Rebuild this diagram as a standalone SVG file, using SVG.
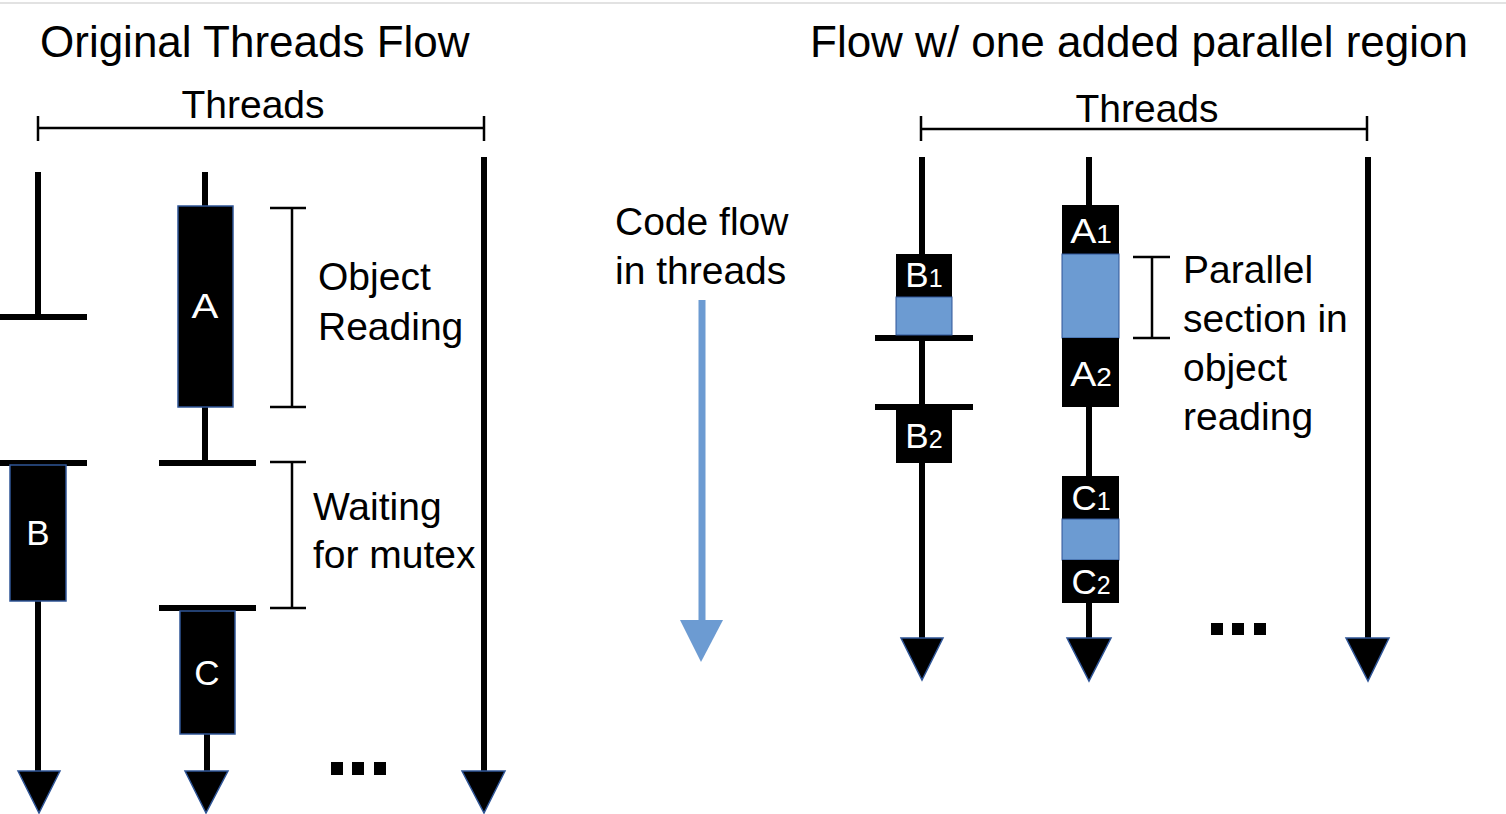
<svg xmlns="http://www.w3.org/2000/svg" width="1506" height="814" viewBox="0 0 1506 814">
<defs>
<style>
text{font-family:"Liberation Sans",Arial,sans-serif;fill:#000}
.title{font-size:44px}
.lbl{font-size:39px}
.box{fill:#000;stroke:#2f5597;stroke-width:1.5}
.boxr{fill:#000}
.par{fill:#6c9bd2;stroke:#2f5597;stroke-width:1}
.thr{stroke:#000;stroke-width:6;fill:none}
.bar{stroke:#000;stroke-width:6;fill:none}
.brk{stroke:#000;stroke-width:2.5;fill:none}
.head{fill:#000;stroke:#2f5597;stroke-width:1.5}
.w{fill:#fff;font-size:35px;text-anchor:middle}
.sub{font-size:25px}
</style>
</defs>
<rect width="1506" height="814" fill="#fff"/>
<line x1="0" y1="3" x2="1506" y2="3" stroke="#e2e2e2" stroke-width="2"/>

<g id="titles">
<text class="title" x="40" y="57">Original Threads Flow</text>
<text class="title" x="810" y="57">Flow w/ one added parallel region</text>
</g>

<g id="threads-axis-left">
<text class="lbl" x="253" y="118" text-anchor="middle">Threads</text>
<path class="brk" d="M38,128H484M38,116V141M484,116V141"/>
</g>
<g id="threads-axis-right">
<text class="lbl" x="1147" y="122" text-anchor="middle">Threads</text>
<path class="brk" d="M921,129H1367M921,116V141M1367,116V141"/>
</g>

<g id="connectors">
<path class="thr" d="M38,172V318"/>
<path class="bar" d="M0,317H87"/>
<path class="bar" d="M0,463H87"/>
<path class="thr" d="M38,601V775"/>
<polygon class="head" points="18,771 60,771 39,813"/>
<path class="thr" d="M205,172V207"/>
<path class="thr" d="M205,407V463"/>
<path class="bar" d="M159,463H256"/>
<path class="bar" d="M159,608H256"/>
<path class="thr" d="M207,734V775"/>
<polygon class="head" points="185,771 228,771 206,813"/>
<path class="thr" d="M484,157V775"/>
<polygon class="head" points="462,771 505,771 484,813"/>
<path d="M702,300V624" stroke="#6c9bd2" stroke-width="7" fill="none"/>
<polygon points="680,620 723,620 701,662" fill="#6c9bd2"/>
<path class="thr" d="M922,157V640"/>
<path class="bar" d="M875,338H973"/>
<path class="bar" d="M875,407H973"/>
<polygon class="head" points="901,638 943,638 922,680"/>
<path class="thr" d="M1089,157V640"/>
<polygon class="head" points="1067,638 1111,638 1089,681"/>
<path class="thr" d="M1368,157V640"/>
<polygon class="head" points="1346,638 1389,638 1368,681"/>
</g>

<g id="node-A">
<rect class="box" x="178" y="206" width="55" height="201"/>
<text class="w" transform="translate(205,318) scale(1.15,1)">A</text>
</g>
<g id="node-B">
<rect class="box" x="10" y="465" width="56" height="136"/>
<text class="w" x="38" y="545">B</text>
</g>
<g id="node-C">
<rect class="box" x="180" y="611" width="55" height="123"/>
<text class="w" x="207" y="685">C</text>
</g>

<g id="bracket-object-reading">
<path class="brk" d="M292,208V407M270,208H306M270,407H306"/>
<text class="lbl" x="318" y="290">Object</text>
<text class="lbl" x="318" y="340">Reading</text>
</g>
<g id="bracket-waiting">
<path class="brk" d="M292,462V608M270,462H306M270,608H306"/>
<text class="lbl" x="313" y="520">Waiting</text>
<text class="lbl" x="313" y="568">for mutex</text>
</g>
<g id="dots-left">
<rect x="331" y="762" width="12" height="13"/>
<rect x="352" y="762" width="12" height="13"/>
<rect x="374" y="762" width="12" height="13"/>
</g>

<g id="code-flow-label">
<text class="lbl" x="615" y="235">Code flow</text>
<text class="lbl" x="615" y="284">in threads</text>
</g>

<g id="node-B1">
<rect class="boxr" x="896" y="254" width="56" height="43"/>
<rect class="par" x="896" y="297" width="56" height="38"/>
<text class="w" x="924" y="287">B<tspan class="sub">1</tspan></text>
</g>
<g id="node-B2">
<rect class="boxr" x="896" y="409" width="56" height="54"/>
<text class="w" x="924" y="448">B<tspan class="sub">2</tspan></text>
</g>
<g id="node-A12">
<rect class="boxr" x="1062" y="205" width="57" height="49"/>
<rect class="par" x="1062" y="254" width="57" height="84"/>
<rect class="boxr" x="1062" y="338" width="57" height="69"/>
<text class="w" transform="translate(1091,243) scale(1.12,1)">A<tspan class="sub">1</tspan></text>
<text class="w" transform="translate(1091,386) scale(1.12,1)">A<tspan class="sub">2</tspan></text>
</g>
<g id="node-C12">
<rect class="boxr" x="1062" y="476" width="57" height="43"/>
<rect class="par" x="1062" y="519" width="57" height="41"/>
<rect class="boxr" x="1062" y="560" width="57" height="43"/>
<text class="w" x="1091" y="510">C<tspan class="sub">1</tspan></text>
<text class="w" x="1091" y="594">C<tspan class="sub">2</tspan></text>
</g>
<g id="bracket-parallel">
<path class="brk" d="M1152,257V338M1133,257H1170M1133,338H1170"/>
<text class="lbl" x="1183" y="283">Parallel</text>
<text class="lbl" x="1183" y="332">section in</text>
<text class="lbl" x="1183" y="381">object</text>
<text class="lbl" x="1183" y="430">reading</text>
</g>
<g id="dots-right">
<rect x="1211" y="623" width="12" height="12"/>
<rect x="1232" y="623" width="12" height="12"/>
<rect x="1254" y="623" width="12" height="12"/>
</g>
</svg>
